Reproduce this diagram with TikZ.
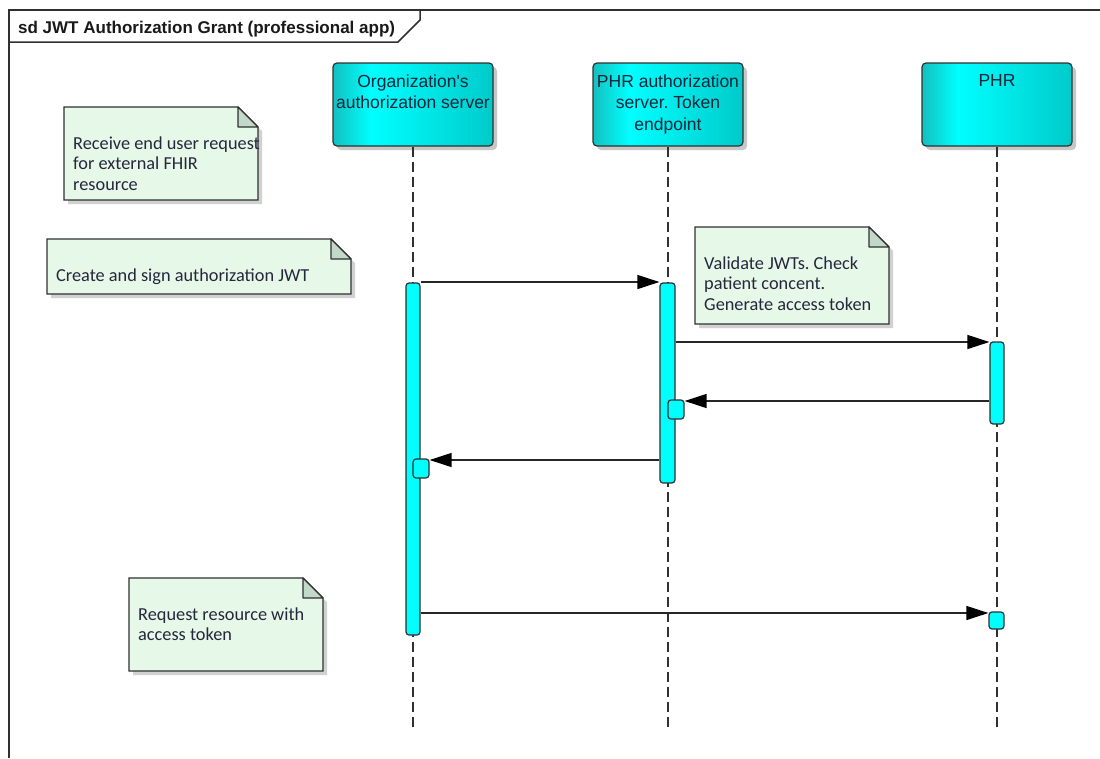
\documentclass[tikz,border=0pt]{standalone}
\usepackage{fontspec}
\setmainfont{Liberation Sans}
\newfontfamily\notefont{Carlito}
\usetikzlibrary{arrows.meta}
\frenchspacing
\definecolor{hdark}{HTML}{14C0C0}
\definecolor{hbright}{HTML}{00FFFF}
\definecolor{hmid}{HTML}{00CACA}
\definecolor{actfill}{HTML}{00FFFF}
\definecolor{notefill}{HTML}{E6F8E8}
\definecolor{foldfill}{HTML}{C2D8C8}
\definecolor{linec}{HTML}{303030}
\definecolor{textc}{HTML}{15253A}
\definecolor{notetc}{HTML}{26263C}
\pgfdeclarehorizontalshading{headshade}{100bp}{color(0bp)=(hdark); color(25bp)=(hdark); color(37bp)=(hbright); color(75bp)=(hmid); color(100bp)=(hmid)}
\tikzset{
  frame/.style={draw=linec, line width=1.5pt},
  head/.style={draw=linec, line width=1.2pt, rounded corners=4pt, shading=headshade, inner sep=0pt},
  headsh/.style={fill=black!22, rounded corners=4pt},
  headtext/.style={anchor=north, inner sep=0pt, align=center, text=textc, font=\frenchspacing\fontsize{17.5}{21.5}\selectfont},
  lifeline/.style={draw=linec, line width=1.2pt, dash pattern=on 10pt off 5pt},
  act/.style={draw=linec, line width=1.2pt, fill=actfill, rounded corners=3pt, inner sep=0pt},
  msg/.style={draw=black!85, line width=1.3pt, -{Triangle[length=22pt,width=14pt,color=black]}},
  notebody/.style={draw=linec, line width=1.2pt, fill=notefill},
  notefold/.style={draw=linec, line width=1.2pt, fill=foldfill, line join=round},
  notesh/.style={fill=black!18},
  notetext/.style={anchor=north west, inner sep=0pt, align=left, text=notetc, font=\frenchspacing\notefont\fontsize{18.3}{20.5}\selectfont},
}
\newcommand{\umlnote}[6]{%
  \fill[notesh] (#2+4,#3+4) -- (#4-16,#3+4) -- (#4+4,#3+24) -- (#4+4,#5+4) -- (#2+4,#5+4) -- cycle;
  \draw[notebody] (#2,#3) -- (#4-20,#3) -- (#4,#3+20) -- (#4,#5) -- (#2,#5) -- cycle;
  \draw[notefold] (#4-20,#3) -- (#4-20,#3+20) -- (#4,#3+20) -- cycle;
  \node[notetext] (#1) at (#2+9,#3+29.5) {#6};
}
\begin{document}
\begin{tikzpicture}[x=1pt,y=-1pt]
\useasboundingbox (0,0) rectangle (1100,758);
\fill[white] (0,0) rectangle (1100,758);
% frame
\draw[frame] (9,758) -- (9,10) -- (1100,10);
\draw[frame, line join=miter] (9,42) -- (398,42) -- (420,20) -- (420,10);
\node[anchor=base west, inner sep=0pt, text=black!90, font=\bfseries\fontsize{17}{20}\selectfont] (title) at (18,33) {sd JWT Authorization Grant (professional app)};
% head shadows
\fill[headsh] (337,67) rectangle (497,150);
\fill[headsh] (597,67) rectangle (747,150);
\fill[headsh] (926,67) rectangle (1076,150);
% heads
\node[head, minimum width=160pt, minimum height=83pt] (h1) at (413,104.5) {};
\node[head, minimum width=150pt, minimum height=83pt] (h2) at (668,104.5) {};
\node[head, minimum width=150pt, minimum height=83pt] (h3) at (997,104.5) {};
\node[headtext] (t1) at (413,74.6) {Organization\textquotesingle s\\authorization server};
\node[headtext] (t2) at (668,74.6) {PHR authorization\\server. Token\\endpoint};
\node[headtext] (t3) at (997,74.6) {PHR};
% lifelines
\coordinate (e1) at (413,727);
\coordinate (e2) at (668,727);
\coordinate (e3) at (997,727);
\draw[lifeline] (h1.south) -- (e1);
\draw[lifeline] (h2.south) -- (e2);
\draw[lifeline] (h3.south) -- (e3);
% notes
\umlnote{n1}{64}{107}{258}{200}{Receive end user request\\for external FHIR\\resource}
\umlnote{n2}{47}{239}{351}{294}{Create and sign authorization JWT}
\umlnote{n3}{695}{227}{889}{324}{Validate JWTs. Check\\patient concent.\\Generate access token}
\umlnote{n4}{129}{578}{323}{671}{Request resource with\\access token}
% activations
\node[act, minimum width=14pt, minimum height=352pt] (a1) at (413,459) {};
\node[act, minimum width=15pt, minimum height=200pt] (a2) at (667.5,383) {};
\node[act, minimum width=14pt, minimum height=82pt] (a3) at (997,383) {};
\node[act, minimum width=16pt, minimum height=19pt] (s1) at (676,409.5) {};
\node[act, minimum width=16pt, minimum height=19pt] (s2) at (421,468.5) {};
\node[act, minimum width=15pt, minimum height=17pt] (s3) at (996.5,620.5) {};
% messages
\draw[msg] (a1.east |- 0,282) -- (a2.west |- 0,282);
\draw[msg] (a2.east |- 0,342) -- (a3.west |- 0,342);
\draw[msg] (a3.west |- 0,401) -- (s1.east |- 0,401);
\draw[msg] (a2.west |- 0,460) -- (s2.east |- 0,460);
\draw[msg] (a1.east |- 0,613) -- (s3.west |- 0,613);
\end{tikzpicture}
\end{document}
